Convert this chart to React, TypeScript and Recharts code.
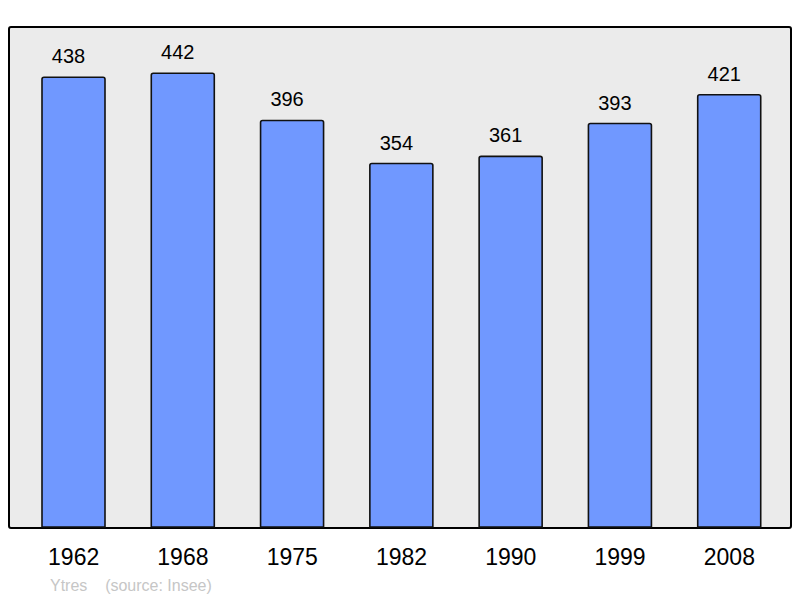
import React from 'react';
import { BarChart, Bar, XAxis, YAxis, LabelList } from 'recharts';

const years = ['1962', '1968', '1975', '1982', '1990', '1999', '2008'];
const population = [438, 442, 396, 354, 361, 393, 421];
const yDomain = [0, 487];

const data = years.map((year, i) => ({ year, population: population[i] }));

const FONT = '"Liberation Sans", Arial, sans-serif';

export default function App() {
  return (
    <div style={{ position: 'absolute', left: 0, top: 0, width: 800, height: 598, fontFamily: FONT, background: '#fff' }}>
      {/* framed grey panel behind the plot area */}
      <div
        style={{
          position: 'absolute',
          left: 8,
          top: 26,
          width: 780,
          height: 499,
          background: '#ebebeb',
          border: '2px solid #000',
          borderRadius: 3,
        }}
      />
      <div style={{ position: 'absolute', left: 0, top: 0 }}>
        <BarChart
          width={800}
          height={598}
          data={data}
          margin={{ top: 27, right: 9, bottom: 0, left: 9 }}
          barCategoryGap={0}
        >
          <XAxis
            dataKey="year"
            padding={{ left: 10, right: 7 }}
            axisLine={false}
            tickLine={false}
            tickSize={0}
            tickMargin={22}
            height={71}
            interval={0}
            tick={{ fill: '#000', fontSize: 23, fontFamily: FONT }}
          />
          <YAxis domain={yDomain} hide />
          <Bar
            dataKey="population"
            barSize={63}
            fill="#7098ff"
            stroke="#111"
            strokeWidth={1.6}
            radius={[2, 2, 0, 0]}
            isAnimationActive={false}
          >
            <LabelList
              dataKey="population"
              position="top"
              offset={14}
              dx={-5}
              fill="#000"
              fontSize={20}
              fontFamily={FONT}
            />
          </Bar>
        </BarChart>
      </div>
      <div
        style={{
          position: 'absolute',
          left: 50,
          top: 576,
          fontSize: 16,
          color: '#c6c6c6',
          whiteSpace: 'pre',
          lineHeight: '20px',
        }}
      >
        {'Ytres    (source: Insee)'}
      </div>
    </div>
  );
}
